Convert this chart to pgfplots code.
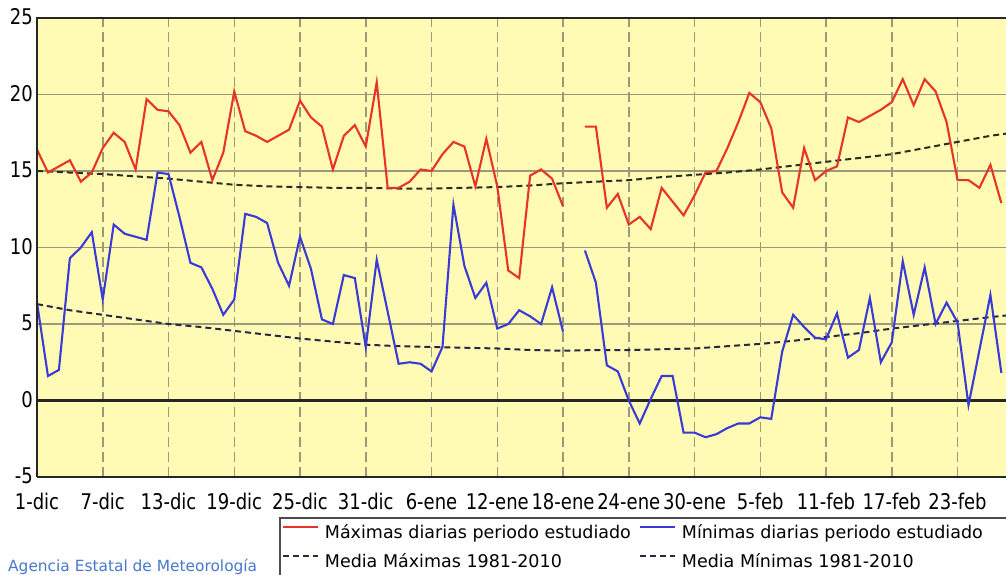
\documentclass[border=0pt]{standalone}
\usepackage{fontspec}
\setmainfont{DejaVu Sans}
\usepackage{graphicx}
\usepackage{pgfplots}
\usepackage{pgfplotstable}
\pgfplotsset{compat=1.18}

\definecolor{fondo}{RGB}{255,251,181}
\definecolor{rejilla}{RGB}{155,153,122}
\definecolor{rojo}{RGB}{232,52,40}
\definecolor{azul}{RGB}{58,58,215}
\definecolor{normal}{RGB}{45,45,30}
\definecolor{normalmin}{RGB}{40,40,70}
\definecolor{agencia}{RGB}{70,120,205}

% day index (0 = 1 Dec), daily maximum and minimum temperature
\pgfplotstableread{
d tmax tmin
0 16.4 6.4
1 14.9 1.6
2 15.3 2.0
3 15.7 9.3
4 14.3 10.0
5 14.9 11.0
6 16.5 6.6
7 17.5 11.5
8 16.9 10.9
9 15.1 10.7
10 19.7 10.5
11 19.0 14.9
12 18.9 14.8
13 18.0 12.0
14 16.2 9.0
15 16.9 8.7
16 14.4 7.3
17 16.2 5.6
18 20.2 6.6
19 17.6 12.2
20 17.3 12.0
21 16.9 11.6
22 17.3 9.0
23 17.7 7.5
24 19.6 10.7
25 18.5 8.6
26 17.9 5.3
27 15.1 5.0
28 17.3 8.2
29 18.0 8.0
30 16.6 3.5
31 20.8 9.2
32 13.9 5.8
33 13.9 2.4
34 14.3 2.5
35 15.1 2.4
36 15.0 1.9
37 16.1 3.5
38 16.9 12.8
39 16.6 8.8
40 14.0 6.7
41 17.1 7.7
42 14.0 4.7
43 8.5 5.0
44 8.0 5.9
45 14.7 5.5
46 15.1 5.0
47 14.5 7.4
48 12.7 4.5
49 nan nan
50 17.9 9.8
51 17.9 7.7
52 12.6 2.3
53 13.5 1.9
54 11.5 0.0
55 12.0 -1.5
56 11.2 0.1
57 13.9 1.6
58 13.0 1.6
59 12.1 -2.1
60 13.4 -2.1
61 14.9 -2.4
62 15.0 -2.2
63 16.5 -1.8
64 18.2 -1.5
65 20.1 -1.5
66 19.5 -1.1
67 17.8 -1.2
68 13.6 3.2
69 12.6 5.6
70 16.5 4.8
71 14.4 4.1
72 15.0 4.0
73 15.3 5.7
74 18.5 2.8
75 18.2 3.3
76 18.6 6.7
77 19.0 2.5
78 19.5 3.8
79 21.0 9.1
80 19.3 5.6
81 21.0 8.7
82 20.2 5.0
83 18.2 6.4
84 14.4 5.1
85 14.4 -0.3
86 13.9 3.3
87 15.4 6.9
88 12.9 1.8
}\diarias

% 1981-2010 normals of maximum and minimum temperature
\pgfplotstableread{
d nmax nmin
0 15.0 6.3
3 14.9 5.9
6 14.8 5.6
9 14.65 5.3
12 14.5 5.0
15 14.3 4.8
18 14.1 4.55
21 14.0 4.3
24 13.95 4.05
27 13.9 3.85
30 13.9 3.65
33 13.85 3.55
36 13.85 3.5
39 13.9 3.45
42 13.95 3.4
45 14.05 3.3
48 14.2 3.25
51 14.3 3.3
54 14.4 3.3
57 14.6 3.35
60 14.75 3.4
63 14.9 3.55
66 15.1 3.7
69 15.35 3.9
72 15.6 4.15
75 15.85 4.4
78 16.1 4.7
81 16.5 4.95
84 16.9 5.2
87 17.3 5.45
89 17.5 5.6
}\normales

\newcommand{\tl}[1]{\scalebox{1}[1.2]{#1}}

\begin{document}
\begin{tikzpicture}[x=1pt,y=1pt]
\begin{axis}[
  at={(37pt,-477pt)}, anchor=south west,
  scale only axis, width=969.3pt, height=459pt,
  xmin=0, xmax=88.45, ymin=-5, ymax=25,
  axis background/.style={fill=fondo},
  axis line style={draw=none},
  tick style={draw=none},
  font=\fontsize{18}{21}\selectfont,
  xtick={0,6,...,84},
  xticklabels={\tl{1-dic},\tl{7-dic},\tl{13-dic},\tl{19-dic},\tl{25-dic},\tl{31-dic},
    \tl{6-ene},\tl{12-ene},\tl{18-ene},\tl{24-ene},\tl{30-ene},\tl{5-feb},\tl{11-feb},
    \tl{17-feb},\tl{23-feb}},
  ytick={-5,0,5,10,15,20,25},
  yticklabels={\tl{-5},\tl{0},\tl{5},\tl{10},\tl{15},\tl{20},\tl{25}},
  xticklabel style={anchor=base, inner sep=0pt, yshift=-32pt},
  yticklabel style={anchor=base east, inner sep=0pt, xshift=-4pt, yshift=-6.5pt},
  xmajorgrids, ymajorgrids,
  x grid style={rejilla, line width=1.5pt, dash pattern=on 10pt off 5pt},
  y grid style={rejilla, line width=1.6pt},
  unbounded coords=jump,
  legend columns=2,
  legend cell align=left,
  legend style={
    at={(axis description cs:0.24966,-0.08715)}, anchor=north west,
    draw=black!70, line width=1.8pt, fill=white,
    inner xsep=2pt, inner ysep=0pt,
    font=\fontsize{17.5}{20}\selectfont,
    nodes={inner xsep=2pt, inner ysep=0pt, text height=21pt, text depth=8pt},
    /tikz/every odd column/.append style={column sep=4pt},
    /tikz/every even column/.append style={column sep=0pt},
    row sep=0pt,
  },
  legend image code/.code={\draw[#1] (0pt,5pt) -- (35pt,5pt);},
  after end axis/.code={
    \draw[black!85, line width=2.2pt] (rel axis cs:0,0) -- (rel axis cs:0,1) -- (rel axis cs:1,1);
    \draw[black!85, line width=2.2pt] (rel axis cs:0,0) -- (rel axis cs:1,0);
  },
]
% zero reference line
\draw[black!85, line width=2.6pt] (axis cs:0,0) -- (axis cs:88.45,0);

\addplot[forget plot, normal, line width=2pt, dash pattern=on 6pt off 4pt]
  table[x=d, y=nmax]{\normales};
\addplot[forget plot, normalmin, line width=2pt, dash pattern=on 6pt off 4pt]
  table[x=d, y=nmin]{\normales};
\addplot[forget plot, rojo, line width=2.1pt] table[x=d, y=tmax]{\diarias};
\addplot[forget plot, azul, line width=2.1pt] table[x=d, y=tmin]{\diarias};

\addlegendimage{rojo, line width=2pt}
\addlegendentry{\makebox[312pt][l]{Máximas diarias periodo estudiado}}
\addlegendimage{azul, line width=2pt}
\addlegendentry{\makebox[330pt][l]{Mínimas diarias periodo estudiado}}
\addlegendimage{normal, line width=2pt, dash pattern=on 6pt off 4pt}
\addlegendentry{\makebox[312pt][l]{Media Máximas 1981-2010}}
\addlegendimage{normalmin, line width=2pt, dash pattern=on 6pt off 4pt}
\addlegendentry{\makebox[330pt][l]{Media Mínimas 1981-2010}}
\end{axis}

\node[anchor=base west, inner sep=0pt, text=agencia, font=\fontsize{15.4}{18}\selectfont]
  at (8pt,-571pt) {Agencia Estatal de Meteorología};

\pgfresetboundingbox
\useasboundingbox (0pt,0pt) rectangle (1006pt,-575pt);
\end{tikzpicture}
\end{document}
